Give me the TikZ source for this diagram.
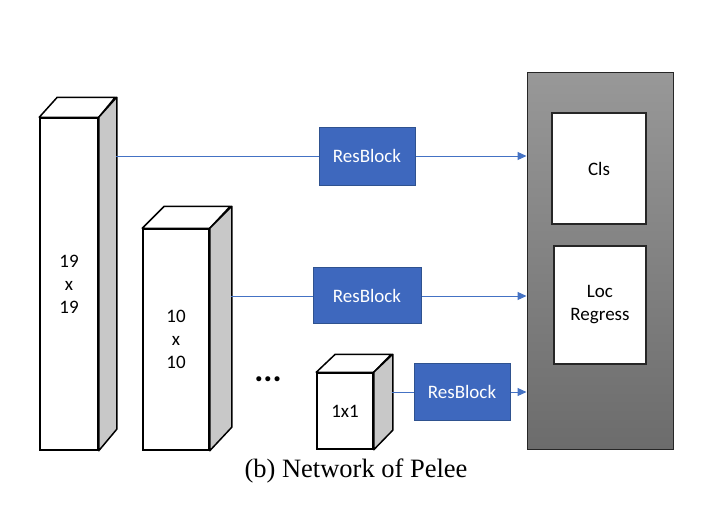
\documentclass[tikz,border=0pt]{standalone}
\usepackage{fontspec}
\setmainfont{Liberation Serif}
\newfontfamily\calfont{Carlito}
\usetikzlibrary{arrows.meta}
\definecolor{rbfill}{RGB}{62,104,190}
\definecolor{rbdraw}{RGB}{47,82,143}
\definecolor{lnblue}{RGB}{68,114,196}
\definecolor{sidegray}{RGB}{200,200,200}
\definecolor{ptop}{RGB}{152,152,152}
\definecolor{pbot}{RGB}{108,108,108}
\tikzset{
  front/.style={draw=black, line width=1.5pt, fill=white, inner sep=0pt, align=center,
    font=\calfont\fontsize{19}{23}\selectfont},
  face/.style={draw=black, line width=1.5pt, line join=round},
  resblk/.style={draw=rbdraw, line width=1pt, fill=rbfill, text=white, inner sep=0pt,
    font=\calfont\fontsize{19}{23}\selectfont},
  headbox/.style={draw=black!85, line width=1.5pt, fill=white, inner sep=0pt, align=center,
    font=\calfont\fontsize{19}{23}\selectfont},
  conn/.style={draw=lnblue, line width=1pt},
  arr/.style={draw=lnblue, line width=1pt, -{Triangle[length=9pt,width=8pt,fill=lnblue]}}
}
\begin{document}
\begin{tikzpicture}[x=1pt,y=-1pt]
\useasboundingbox (0,0) rectangle (728,514);
% panel
\node[draw=black!85, line width=1pt, top color=ptop, bottom color=pbot, minimum width=146pt, minimum height=377pt, inner sep=0pt] (panel) at (600,260.5) {};
\node[headbox, minimum width=94pt, minimum height=111pt] (cls) at (599,168.5) {Cls};
\node[headbox, minimum width=92pt, minimum height=118pt] (loc) at (600,305) {\rule{0pt}{6pt}Loc\\Regress};
% cuboid 1
\node[front, minimum width=58pt, minimum height=332pt] (c1) at (69,284) {19\\x\\19};
\draw[face, fill=white] (c1.north west) -- ++(18,-20) -- ++(58,0) -- (c1.north east) -- cycle;
\draw[face, fill=sidegray] (c1.north east) -- ++(18,-20) -- ++(0,332) -- (c1.south east) -- cycle;
% cuboid 2
\node[front, minimum width=66pt, minimum height=221pt] (c2) at (176,339.5) {10\\x\\10};
\draw[face, fill=white] (c2.north west) -- ++(22,-22) -- ++(66,0) -- (c2.north east) -- cycle;
\draw[face, fill=sidegray] (c2.north east) -- ++(22,-22) -- ++(0,221) -- (c2.south east) -- cycle;
% cuboid 3
\node[front, minimum width=56pt, minimum height=76pt] (c3) at (345,411) {1x1};
\draw[face, fill=white] (c3.north west) -- ++(19,-18) -- ++(56,0) -- (c3.north east) -- cycle;
\draw[face, fill=sidegray] (c3.north east) -- ++(19,-18) -- ++(0,76) -- (c3.south east) -- cycle;
% dots
\node[font=\calfont\bfseries\fontsize{34}{34}\selectfont, inner sep=0pt] (dots) at (268,379) {...};
% resblocks
\node[resblk, minimum width=96pt, minimum height=58pt] (r1) at (367,156) {ResBlock};
\node[resblk, minimum width=108pt, minimum height=56pt] (r2) at (367,295.5) {ResBlock};
\node[resblk, minimum width=96pt, minimum height=57pt] (r3) at (462,391.5) {ResBlock};
% connector start points on cuboid sides
\coordinate (s1) at (116,156);
\coordinate (s2) at (231,296);
\coordinate (s3) at (392,392);
\draw[conn] (s1) -- (r1.west |- s1);
\draw[arr] (r1.east |- s1) -- (panel.west |- s1);
\draw[conn] (s2) -- (r2.west |- s2);
\draw[arr] (r2.east |- s2) -- (panel.west |- s2);
\draw[conn] (s3) -- (r3.west |- s3);
\draw[arr] (r3.east |- s3) -- (panel.west |- s3);
% caption
\node[font=\fontsize{26.5}{30}\selectfont, inner sep=0pt] (cap) at (356,471) {(b) Network of Pelee};
\end{tikzpicture}
\end{document}
